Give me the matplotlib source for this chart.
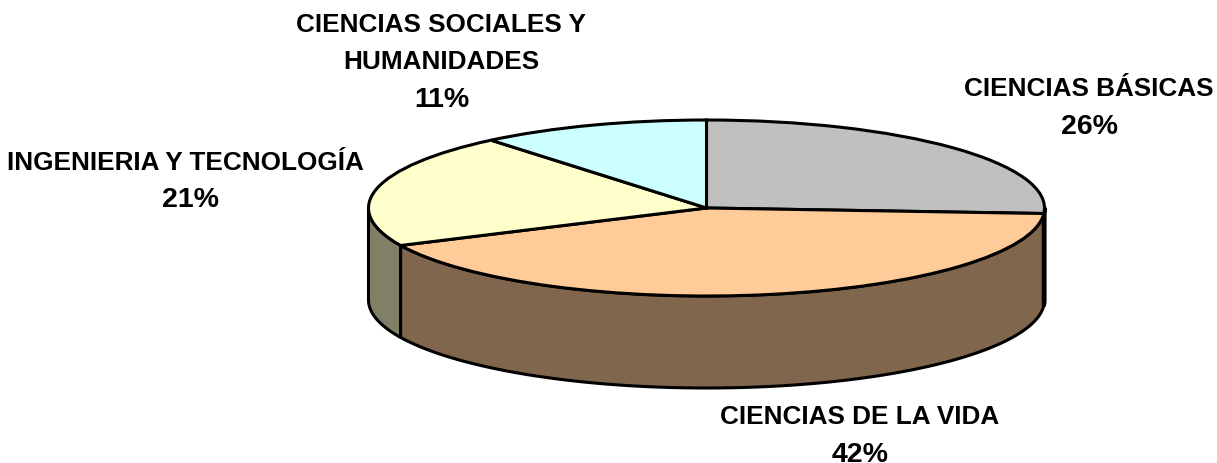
import numpy as np
import matplotlib
matplotlib.use("Agg")
import matplotlib.pyplot as plt

plt.rcParams['font.family'] = ['Liberation Sans', 'DejaVu Sans']

labels = ['CIENCIAS BÁSICAS', 'CIENCIAS DE LA VIDA', 'INGENIERIA Y TECNOLOGÍA', 'CIENCIAS SOCIALES Y\nHUMANIDADES']
shares = [26, 42, 21, 11]
top_colors = ['#C0C0C0', '#FFCC99', '#FFFFCC', '#CCFFFF']
side_colors = ['#000000', '#80664D', '#808066', '#666666']
side_widths = [3, 2.2, 2.2, 2.2]

W, H = 1217, 464
cx, cy = 706.5, 209
rx, ry = 338, 88
depth = 92 / ry

fig = plt.figure(figsize=(W / 100, H / 100), dpi=100)
ax = fig.add_axes([0, 0, 1, 1])

# the rim, only the part of each slice that faces the viewer
edges = np.cumsum([0] + shares) / sum(shares) * 360
for i in reversed(range(len(shares))):
    a0 = max(edges[i], 90)
    a1 = min(edges[i + 1], 270)
    if a1 <= a0:
        continue
    t = np.radians(np.linspace(a0, a1, 120))
    xs = np.sin(t)
    ys = np.cos(t)
    ax.fill(np.r_[xs, xs[::-1]], np.r_[ys, ys[::-1] - depth],
            facecolor=side_colors[i], edgecolor='black', linewidth=side_widths[i], joinstyle='round')

# top of the pie
ax.pie(shares, colors=top_colors, startangle=90, counterclock=False,
       wedgeprops={'edgecolor': 'black', 'linewidth': 2.2})
ax.set_aspect('auto')
ax.set_xlim(-cx / rx, (W - cx) / rx)
ax.set_ylim((cy - H) / ry, cy / ry)
ax.axis('off')


def put_text(s, px, py, size):
    ax.text((px - cx) / rx, (cy - py) / ry, s, ha='center', va='baseline',
            fontsize=size, fontweight='bold', color='black')


# label positions in pixels: centre x, baselines of the name lines, baseline and centre x of the percent
name_x = [1089, 860, 185, 441]
name_y = [[96], [424], [170], [32, 69.5]]
pct_x = [1090, 860.5, 190.5, 442]
pct_y = [134, 462, 207, 107]
for i in range(len(labels)):
    for line, y in zip(labels[i].split('\n'), name_y[i]):
        put_text(line, name_x[i], y, 18.8)
    put_text(f'{shares[i]}%', pct_x[i], pct_y[i], 20.5)

fig.savefig('out.png', dpi=100, facecolor='white')
